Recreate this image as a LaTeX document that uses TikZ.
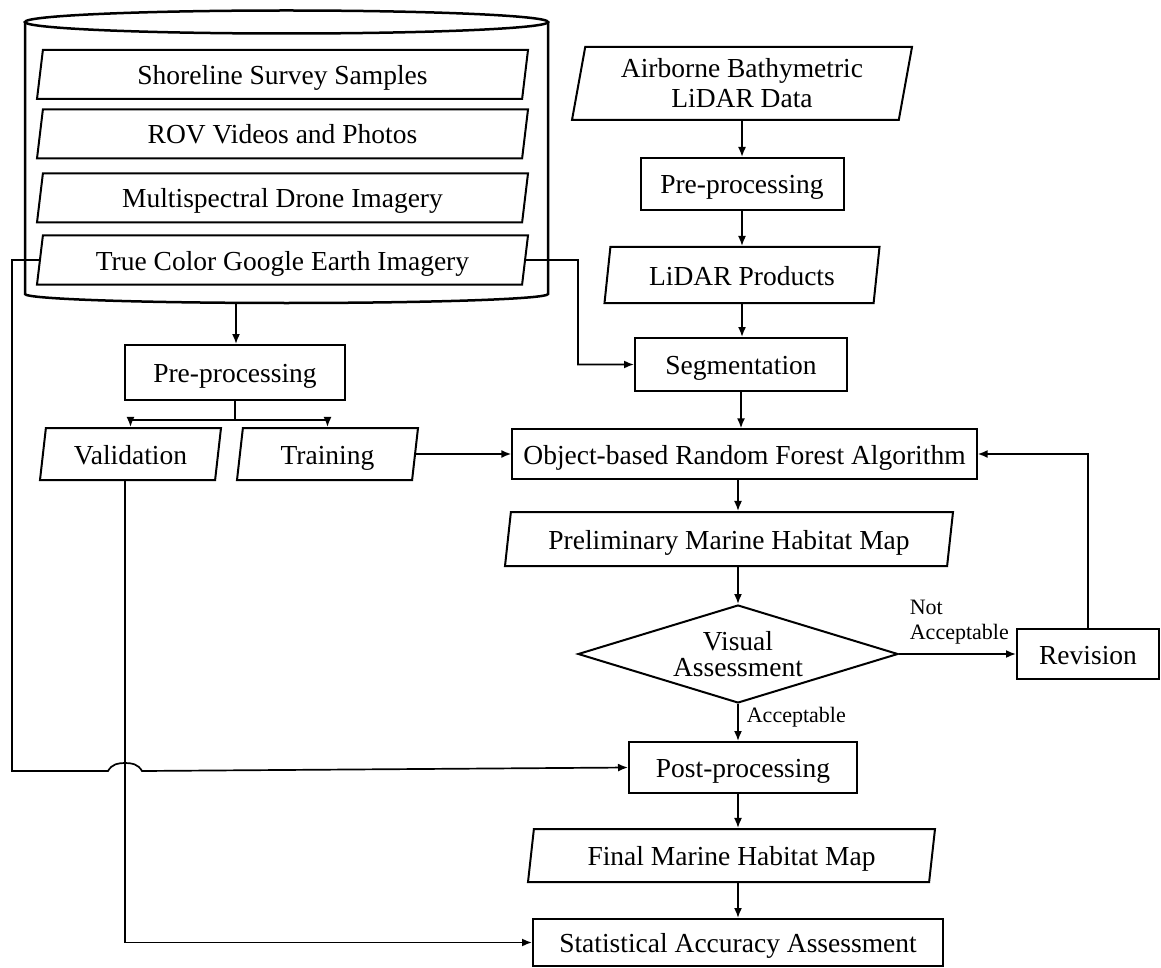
\documentclass[tikz,border=0pt]{standalone}
\usepackage{fontspec}
\setmainfont{Liberation Serif}
\usetikzlibrary{shapes.geometric,arrows.meta}

\tikzset{
    process/.style={rectangle, draw, line width=2pt, align=center, inner sep=0pt, text height=21pt, text depth=1pt},
    data/.style={trapezium, trapezium left angle=75, trapezium right angle=105, trapezium stretches body, draw, line width=2pt, align=center, inner sep=0pt, text height=21pt, text depth=1pt},
    decision/.style={diamond, draw, line width=2pt, align=center, inner sep=0pt},
    note/.style={font=\fontsize{22}{25}\selectfont, align=left, inner sep=0pt}
}

\begin{document}
\begin{tikzpicture}[x=1pt, y=-1pt, >={Latex[length=10pt, width=8pt]}, line width=1.7pt, font=\fontsize{27.5}{30}\selectfont]
    \useasboundingbox (0,0) rectangle (1161,968);

    \draw[line width=2.5pt] (286.5,22) ellipse [x radius=261.5, y radius=11.5];
    \draw[line width=2.5pt] (25,22) -- (25,294) .. controls (25,299) and (142,303) .. (286.5,303) .. controls (431,303) and (548,299) .. (548,294) -- (548,22);
    \coordinate (dbbot) at (236,303);

    \node (survey) [data, minimum width=491, minimum height=49] at (282.5,74.5) {Shoreline Survey Samples};
    \node (rov) [data, minimum width=491, minimum height=49] at (282.5,134) {ROV Videos and Photos};
    \node (drone) [data, minimum width=491, minimum height=49] at (282.5,198) {Multispectral Drone Imagery};
    \node (gearth) [data, minimum width=491, minimum height=49] at (282.5,260) {True Color Google Earth Imagery};

    \node (lidar) [data, text height=, text depth=, minimum width=340, minimum height=73] at (742,83.5) {Airborne Bathymetric\\LiDAR Data};
    \node (prelidar) [process, minimum width=203, minimum height=52] at (742,184) {Pre-processing};
    \node (products) [data, minimum width=275, minimum height=56] at (742,275) {LiDAR Products};
    \node (segment) [process, minimum width=212, minimum height=53] at (741,364.5) {Segmentation};

    \node (preimg) [process, minimum width=220, minimum height=55] at (235,372.5) {Pre-processing};
    \node (valid) [data, minimum width=181, minimum height=52] at (130.5,454) {Validation};
    \node (train) [data, minimum width=181, minimum height=52] at (327.5,454) {Training};
    \coordinate (split) at (235,420);

    \node (forest) [process, line width=1.3pt, minimum width=465, minimum height=50] at (744.5,454) {Object-based Random Forest Algorithm};
    \node (prelim) [data, minimum width=448, minimum height=54] at (729,539) {Preliminary Marine Habitat Map};
    \node (visual) [decision, shape aspect=3.3, minimum width=320, minimum height=98, font=\fontsize{27.5}{26}\selectfont] at (738,654) {Visual\\Assessment};
    \node (revision) [process, minimum width=142, minimum height=50] at (1088,654) {Revision};
    \node (post) [process, minimum width=228, minimum height=51] at (743,767.5) {Post-processing};
    \node (final) [data, minimum width=407, minimum height=53] at (731.5,855.5) {Final Marine Habitat Map};
    \node (stat) [process, minimum width=410, minimum height=47] at (738,942.5) {Statistical Accuracy Assessment};

    \node (notacc) [note, anchor=south west] at (909,645) {Not\\Acceptable};
    \node (acc) [note, anchor=west] at (746,717) {Acceptable};

    \draw[->] (lidar.south) -- (lidar.south |- prelidar.north);
    \draw[->] (prelidar.south) -- (prelidar.south |- products.north);
    \draw[->] (products.south) -- (products.south |- segment.north);
    \draw[->] (segment.south) -- (segment.south |- forest.north);
    \draw[->] (gearth.east) -- (578,260) |- (segment.west);

    \draw[->] (dbbot) -- (dbbot |- preimg.north);
    \draw (preimg.south) -- (split);
    \draw[->] (split) -| (valid.north);
    \draw[->] (split) -| (train.north);
    \draw[->] (train.east) -- (forest.west);

    \draw[->] (visual.north |- forest.south) -- (visual.north |- prelim.north);
    \draw[->] (visual.north |- prelim.south) -- (visual.north);
    \draw[->] (visual.east) -- (revision.west);
    \draw[->] (revision.north) |- (forest.east);
    \draw[->] (visual.south) -- (visual.south |- post.north);
    \draw[->] (visual.south |- post.south) -- (visual.south |- final.north);
    \draw[->] (visual.south |- final.south) -- (visual.south |- stat.north);

    \draw[->] (gearth.west) -- (12,260) -- (12,771) -- (108,771) .. controls (112,764) and (118,763) .. (125,763) .. controls (132,763) and (138,764) .. (142,771) -- (post.west);
    \draw[->] ([xshift=-5.5pt]valid.south) |- (stat.west);
\end{tikzpicture}
\end{document}
